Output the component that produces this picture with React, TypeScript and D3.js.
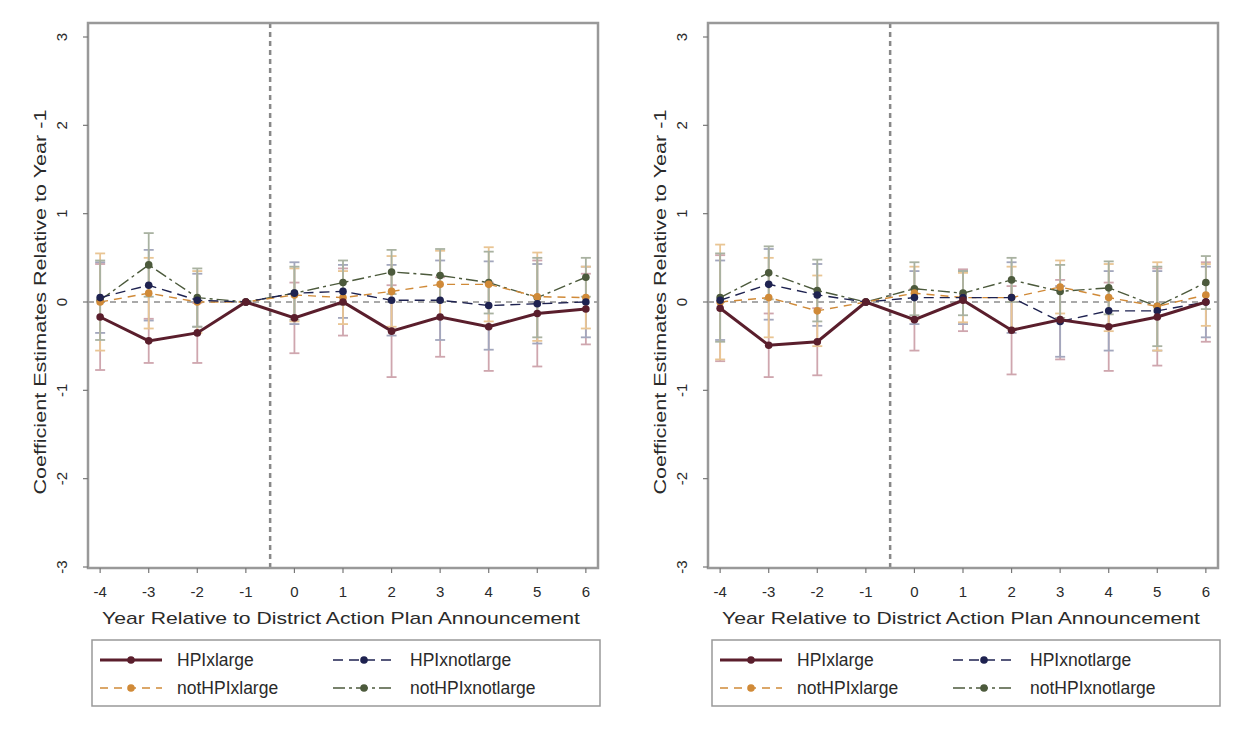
import React from "react";
import * as d3 from "d3";

const years = [-4, -3, -2, -1, 0, 1, 2, 3, 4, 5, 6];
const yTicks = [-3, -2, -1, 0, 1, 2, 3];
const seriesNames = ["HPIxlarge", "HPIxnotlarge", "notHPIxlarge", "notHPIxnotlarge"];

// Left panel: point estimates
const leftHPIxlarge = [-0.17, -0.44, -0.35, 0, -0.18, 0, -0.33, -0.17, -0.28, -0.13, -0.08];
const leftHPIxnotlarge = [0.05, 0.19, 0.02, 0, 0.1, 0.12, 0.02, 0.02, -0.04, -0.02, 0.0];
const leftNotHPIxlarge = [0.0, 0.1, 0.0, 0, 0.08, 0.05, 0.12, 0.2, 0.2, 0.06, 0.05];
const leftNotHPIxnotlarge = [0.02, 0.42, 0.05, 0, 0.1, 0.22, 0.34, 0.3, 0.22, 0.05, 0.28];
// Left panel: CI half-widths
const leftHPIxlargeCI = [0.6, 0.25, 0.34, 0, 0.4, 0.38, 0.52, 0.45, 0.5, 0.6, 0.4];
const leftHPIxnotlargeCI = [0.4, 0.4, 0.3, 0, 0.35, 0.3, 0.4, 0.45, 0.5, 0.45, 0.4];
const leftNotHPIxlargeCI = [0.55, 0.4, 0.35, 0, 0.3, 0.3, 0.4, 0.38, 0.42, 0.5, 0.35];
const leftNotHPIxnotlargeCI = [0.45, 0.36, 0.33, 0, 0.3, 0.25, 0.25, 0.3, 0.35, 0.45, 0.22];

// Right panel: point estimates
const rightHPIxlarge = [-0.07, -0.49, -0.45, 0, -0.2, 0.02, -0.32, -0.2, -0.28, -0.17, 0];
const rightHPIxnotlarge = [0.02, 0.2, 0.08, 0, 0.05, 0.05, 0.05, -0.22, -0.1, -0.1, 0.0];
const rightNotHPIxlarge = [0.0, 0.05, -0.1, 0, 0.1, 0.05, 0.05, 0.17, 0.05, -0.05, 0.08];
const rightNotHPIxnotlarge = [0.05, 0.33, 0.13, 0, 0.15, 0.1, 0.25, 0.12, 0.16, -0.05, 0.22];
// Right panel: CI half-widths
const rightHPIxlargeCI = [0.6, 0.36, 0.38, 0, 0.35, 0.35, 0.5, 0.45, 0.5, 0.55, 0.45];
const rightHPIxnotlargeCI = [0.45, 0.4, 0.35, 0, 0.3, 0.3, 0.4, 0.4, 0.45, 0.45, 0.4];
const rightNotHPIxlargeCI = [0.65, 0.45, 0.4, 0, 0.3, 0.28, 0.35, 0.3, 0.38, 0.5, 0.35];
const rightNotHPIxnotlargeCI = [0.5, 0.3, 0.35, 0, 0.3, 0.25, 0.25, 0.3, 0.3, 0.45, 0.3];

const styles = [
  { color: "#5a1e2c", ci: "#cfa6ae", width: 3, dash: "" },
  { color: "#1e2250", ci: "#a3a7bd", width: 1.4, dash: "10,6" },
  { color: "#d08a38", ci: "#e9c594", width: 1.4, dash: "8,6" },
  { color: "#4c5a3c", ci: "#a9b2a1", width: 1.4, dash: "12,4,3,4" },
];

const W = 1244;
const H = 734;
const plotTop = 23;
const plotBottom = 568;
const FONT = "Liberation Sans, Arial, sans-serif";
const TXT = "#2a2a2a";

function Panel({ x0, est, ci }: { x0: number; est: number[][]; ci: number[][] }) {
  const x1 = x0 + 510;
  const x = d3.scaleLinear().domain([-4.25, 6.25]).range([x0, x1]);
  const y = d3.scaleLinear().domain([-3, 3]).range([567, 37]);
  const line = d3
    .line<[number, number]>()
    .x((d) => x(d[0]))
    .y((d) => y(d[1]));
  const capW = 5;
  return (
    <g>
      <line x1={x0} x2={x1} y1={y(0)} y2={y(0)} stroke="#555" strokeWidth={1.2} strokeDasharray="6,5" />
      <line x1={x(-0.5)} x2={x(-0.5)} y1={plotTop} y2={plotBottom} stroke="#888" strokeWidth={2.5} strokeDasharray="5,4" />
      {est.map((s, si) =>
        s.map((v, i) => {
          if (ci[si][i] === 0) return null;
          const lo = y(v - ci[si][i]);
          const hi = y(v + ci[si][i]);
          const cx = x(years[i]);
          return (
            <g key={`ci${si}-${i}`} stroke={styles[si].ci} strokeWidth={1.8}>
              <line x1={cx} x2={cx} y1={lo} y2={hi} />
              <line x1={cx - capW} x2={cx + capW} y1={lo} y2={lo} />
              <line x1={cx - capW} x2={cx + capW} y1={hi} y2={hi} />
            </g>
          );
        })
      )}
      {est
        .map((s, si) => ({ s, si }))
        .reverse()
        .map(({ s, si }) => (
          <g key={`l${si}`}>
            <path
              d={line(s.map((v, i) => [years[i], v] as [number, number])) || ""}
              fill="none"
              stroke={styles[si].color}
              strokeWidth={styles[si].width}
              strokeDasharray={styles[si].dash}
            />
            {s.map((v, i) => (
              <circle key={i} cx={x(years[i])} cy={y(v)} r={3.8} fill={styles[si].color} />
            ))}
          </g>
        ))}
      <rect x={x0} y={plotTop} width={510} height={plotBottom - plotTop} fill="none" stroke="#999" strokeWidth={2.5} />
      {yTicks.map((t) => (
        <g key={`yt${t}`}>
          <line x1={x0 - 5} x2={x0} y1={y(t)} y2={y(t)} stroke="#777" strokeWidth={1.2} />
          <text
            transform={`translate(${x0 - 21},${y(t)}) rotate(-90)`}
            textAnchor="middle"
            fontSize={15}
            fontFamily={FONT}
            fill={TXT}
          >
            {t}
          </text>
        </g>
      ))}
      {years.map((t) => (
        <g key={`xt${t}`}>
          <line x1={x(t)} x2={x(t)} y1={plotBottom} y2={plotBottom + 5} stroke="#777" strokeWidth={1.2} />
          <text x={x(t)} y={597} textAnchor="middle" fontSize={15} fontFamily={FONT} fill={TXT}>
            {t}
          </text>
        </g>
      ))}
      <text
        x={(x0 + x1) / 2 - 2}
        y={624}
        textAnchor="middle"
        fontSize={17}
        fontFamily={FONT}
        fill={TXT}
        textLength={478}
        lengthAdjust="spacingAndGlyphs"
      >
        Year Relative to District Action Plan Announcement
      </text>
      <text
        transform={`translate(${x0 - 42},${302}) rotate(-90)`}
        textAnchor="middle"
        fontSize={17}
        fontFamily={FONT}
        fill={TXT}
        textLength={385}
        lengthAdjust="spacingAndGlyphs"
      >
        Coefficient Estimates Relative to Year -1
      </text>
      <g>
        <rect x={x0 + 4} y={640} width={508} height={66} fill="none" stroke="#999" strokeWidth={1.5} />
        {seriesNames.map((name, si) => {
          const col = si % 2;
          const row = Math.floor(si / 2);
          const lx = x0 + (col === 0 ? 12 : 245);
          const ly = 660 + row * 28;
          return (
            <g key={name}>
              <line
                x1={lx}
                x2={lx + 62}
                y1={ly}
                y2={ly}
                stroke={styles[si].color}
                strokeWidth={styles[si].width}
                strokeDasharray={styles[si].dash}
              />
              <circle cx={lx + 31} cy={ly} r={3.8} fill={styles[si].color} />
              <text x={lx + 77} y={ly + 6} fontSize={17.5} fontFamily={FONT} fill={TXT}>
                {name}
              </text>
            </g>
          );
        })}
      </g>
    </g>
  );
}

export default function App() {
  return (
    <svg
      width={W}
      height={H}
      style={{ position: "absolute", left: 0, top: 0, background: "#fff" }}
    >
      <rect width={W} height={H} fill="#fff" />
      <Panel
        x0={88}
        est={[leftHPIxlarge, leftHPIxnotlarge, leftNotHPIxlarge, leftNotHPIxnotlarge]}
        ci={[leftHPIxlargeCI, leftHPIxnotlargeCI, leftNotHPIxlargeCI, leftNotHPIxnotlargeCI]}
      />
      <Panel
        x0={708}
        est={[rightHPIxlarge, rightHPIxnotlarge, rightNotHPIxlarge, rightNotHPIxnotlarge]}
        ci={[rightHPIxlargeCI, rightHPIxnotlargeCI, rightNotHPIxlargeCI, rightNotHPIxnotlargeCI]}
      />
    </svg>
  );
}
